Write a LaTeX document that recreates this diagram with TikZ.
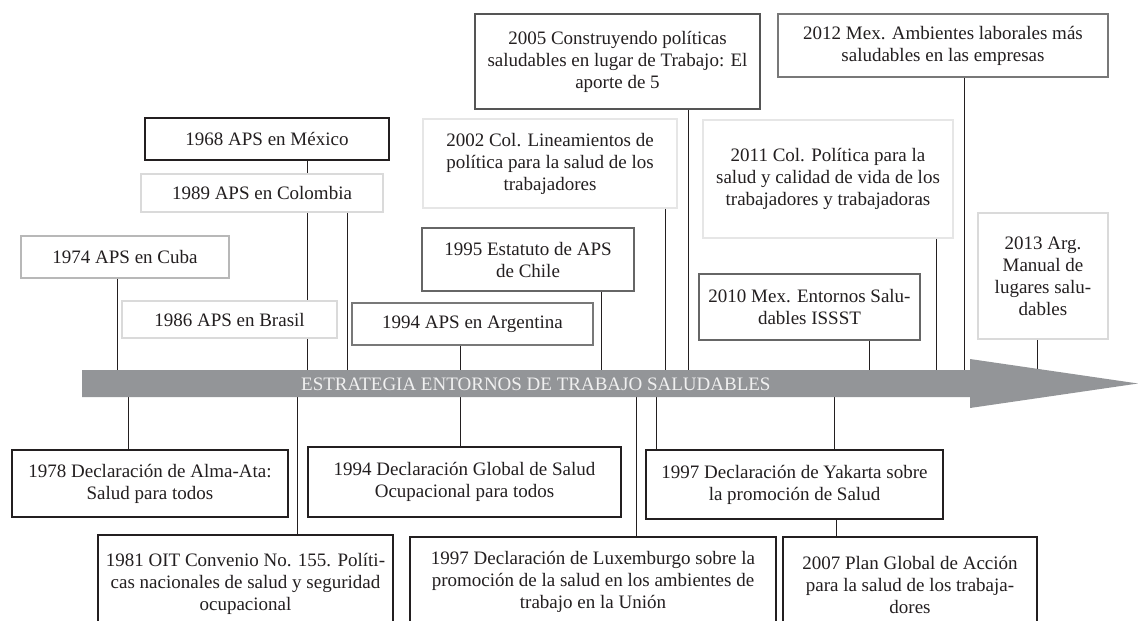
\documentclass[tikz,border=0pt]{standalone}
\usepackage{fontspec}
\setmainfont{Liberation Serif}
\definecolor{txt}{HTML}{231F20}
\definecolor{barc}{HTML}{939598}
\definecolor{bk}{HTML}{231F20}
\definecolor{g5}{HTML}{555555}
\definecolor{g6}{HTML}{666666}
\definecolor{g7}{HTML}{787878}
\definecolor{gb}{HTML}{B8B8B8}
\definecolor{gd}{HTML}{DADADA}
\definecolor{ge}{HTML}{E6E6E6}
\tikzset{
  box/.style={draw, line width=1.5pt, fill=white, align=center,
    font=\fontsize{19}{22}\selectfont, text=txt, inner sep=0pt},
  conn/.style={draw=txt, line width=0.9pt},
  bartext/.style={font=\fontsize{19}{22}\selectfont, text=white!94!black, inner sep=0pt, anchor=west},
}
\newcommand\tlbox[7]{\node[box,draw=#2,minimum width={(#5-#3)*1pt},minimum height={(#6-#4)*1pt}] (#1) at ({(#3+#5)/2},{(#4+#6)/2}) {#7};}
\begin{document}
\begin{tikzpicture}[x=1pt,y=-1pt]
\useasboundingbox (0,0) rectangle (1138,621);
\clip (0,0) rectangle (1138,621);
% bar coordinates
\coordinate (bartop) at (0,370);
\coordinate (barbot) at (0,397);
% connector behind boxes
\tlbox{m1968}{bk}{145}{118}{389}{160}{1968 APS en México}
\draw[conn] (307,0 |- m1968.south) -- (307,0 |- bartop);
\tlbox{c1989}{gd}{141}{174}{383}{212}{1989 APS en Colombia}
\tlbox{c1974}{gb}{21}{236}{229}{278}{1974 APS en Cuba}
\tlbox{b1986}{gd}{122}{301}{337}{338}{1986 APS en Brasil}
\tlbox{a1994}{g7}{352}{303}{593}{345}{1994 APS en Argentina}
\tlbox{ch1995}{g6}{422}{228}{634}{291}{1995 Estatuto de APS\\de Chile}
\tlbox{c2002}{ge}{423}{119}{677}{208}{2002 Col. Lineamientos de\\política para la salud de los\\trabajadores}
\tlbox{c2005}{g5}{475}{14}{760}{109}{2005 Construyendo políticas\\saludables en lugar de Trabajo: El\\aporte de 5}
\tlbox{m2012}{g7}{778}{14}{1108}{77}{2012 Mex. Ambientes laborales más\\saludables en las empresas}
\tlbox{c2011}{ge}{703}{120}{953}{238}{2011 Col. Política para la\\salud y calidad de vida de los\\trabajadores y trabajadoras}
\tlbox{m2010}{g6}{699}{274}{920}{340}{2010 Mex. Entornos Salu-\\dables ISSST}
\tlbox{a2013}{gd}{978}{213}{1108}{339}{2013 Arg.\\Manual de\\lugares salu-\\dables}
% bottom boxes
\tlbox{d1978}{bk}{12}{450}{288}{517}{1978 Declaración de Alma-Ata:\\Salud para todos}
\tlbox{o1981}{bk}{98}{535}{393}{633}{1981 OIT Convenio No. 155. Políti-\\cas nacionales de salud y seguridad\\ocupacional}
\tlbox{g1994}{bk}{308}{447}{621}{517}{1994 Declaración Global de Salud\\Ocupacional para todos}
\tlbox{l1997}{bk}{410}{537}{776}{627}{1997 Declaración de Luxemburgo sobre la\\promoción de la salud en los ambientes de\\trabajo en la Unión}
\tlbox{y1997}{bk}{646}{450}{943}{519}{1997 Declaración de Yakarta sobre\\la promoción de Salud}
\tlbox{p2007}{bk}{783}{537}{1037}{633}{2007 Plan Global de Acción\\para la salud de los trabaja-\\dores}
% connectors above
\draw[conn] (117,0 |- c1974.south) -- (117,0 |- bartop);
\draw[conn] (347,0 |- c1989.south) -- (347,0 |- bartop);
\draw[conn] (460,0 |- a1994.south) -- (460,0 |- bartop);
\draw[conn] (601,0 |- ch1995.south) -- (601,0 |- bartop);
\draw[conn] (665,0 |- c2002.south) -- (665,0 |- bartop);
\draw[conn] (688,0 |- c2005.south) -- (688,0 |- bartop);
\draw[conn] (869,0 |- m2010.south) -- (869,0 |- bartop);
\draw[conn] (936,0 |- c2011.south) -- (936,0 |- bartop);
\draw[conn] (964,0 |- m2012.south) -- (964,0 |- bartop);
\draw[conn] (1037,0 |- a2013.south) -- (1037,0 |- bartop);
% connectors below
\draw[conn] (128,0 |- barbot) -- (128,0 |- d1978.north);
\draw[conn] (297,0 |- barbot) -- (297,0 |- o1981.north);
\draw[conn] (460,0 |- barbot) -- (460,0 |- g1994.north);
\draw[conn] (636,0 |- barbot) -- (636,0 |- l1997.north);
\draw[conn] (656,0 |- barbot) -- (656,0 |- y1997.north);
\draw[conn] (834,0 |- barbot) -- (834,0 |- y1997.north);
\draw[conn] (836,0 |- y1997.south) -- (836,0 |- p2007.north);
% arrow bar
\fill[barc] (82,370) -- (970,370) -- (970,359) -- (1138,383.5) -- (970,408) -- (970,397) -- (82,397) -- cycle;
\node[bartext] (bar) at (301,384) {ESTRATEGIA ENTORNOS DE TRABAJO SALUDABLES};
\end{tikzpicture}
\end{document}
